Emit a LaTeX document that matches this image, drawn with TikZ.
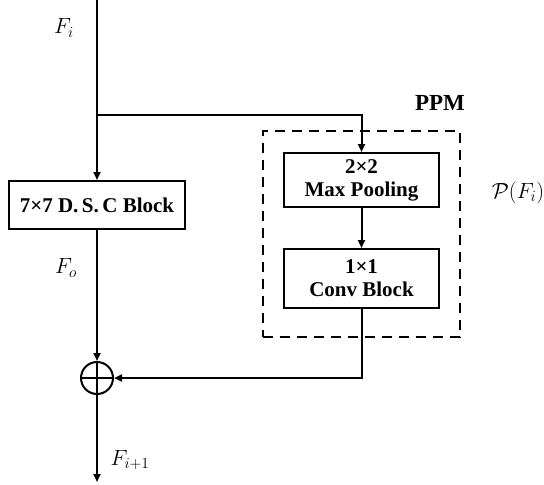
\documentclass[tikz,border=0pt]{standalone}
\usepackage{fix-cm}
\usepackage{fontspec}
\setmainfont{Liberation Serif}
\usetikzlibrary{arrows.meta}
\begin{document}
\begin{tikzpicture}[x=1pt,y=-1pt,
  box/.style={draw, line width=2pt, align=center, inner sep=0pt,
    font=\bfseries\fontsize{21}{23}\selectfont},
  line/.style={line width=2pt},
  conn/.style={line width=2pt, -{Triangle[length=8pt,width=7pt]}},
  lbl/.style={font=\fontsize{22}{26}\selectfont, inner sep=0pt},
  dashbox/.style={draw, line width=2pt, dash pattern=on 10pt off 7pt, minimum width=197pt, minimum height=206pt}]
\useasboundingbox (0,0) rectangle (544,485);
\node[dashbox] (ppm) at (361.5,234) {};
\node[box, minimum width=176pt, minimum height=48pt] (dsc) at (97,205) {7×7 D.\,S.\,C Block};
\node[box, minimum width=155pt, minimum height=54pt] (pool) at (361.5,180) {2×2\\Max Pooling};
\node[box, minimum width=155pt, minimum height=59pt] (convb) at (361.5,278.5) {1×1\\Conv Block};
\node[draw, circle, line width=2pt, minimum size=32pt, inner sep=0pt] (sum) at (97,378) {};
\coordinate (top) at (97,0);
\coordinate (br) at (97,115);
\coordinate (out) at (97,482);
\node[lbl] (fi) at (64,28) {$F_i$};
\node[lbl] (fo) at (66,268) {$F_o$};
\node[lbl] (fi1) at (130,460) {$F_{i+1}$};
\node[lbl, font=\bfseries\fontsize{23}{26}\selectfont] (ppmlbl) at (440,103) {PPM};
\node[lbl] (pf) at (518,193) {$\mathcal{P}(F_i)$};
\draw[line] (top) -- (br);
\draw[conn] (br) -- (dsc.north);
\draw[conn] (br) -| (pool.north);
\draw[conn] (pool.south) -- (convb.north);
\draw[conn] (dsc.south) -- (sum.north);
\draw[conn] (convb.south) |- (sum.east);
\draw[line] (sum.north) -- (sum.south) (sum.west) -- (sum.east);
\draw[conn] (sum.south) -- (out);
\end{tikzpicture}
\end{document}
